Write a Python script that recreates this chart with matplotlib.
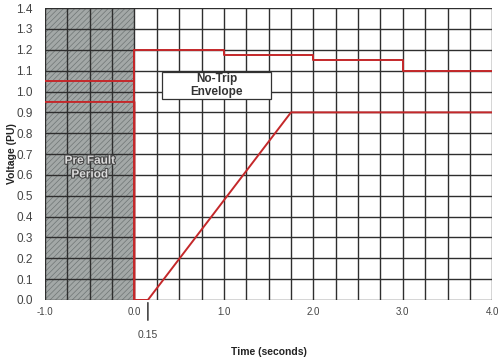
import numpy as np
import matplotlib.pyplot as plt
import matplotlib.patheffects as pe
from matplotlib.patches import Rectangle

# envelope data (time in s, voltage in PU)
upper_t = [-1.0, 0.0, 0.0, 1.0, 1.0, 2.0, 2.0, 3.0, 3.0, 4.0]
upper_v = [1.05, 1.05, 1.20, 1.20, 1.175, 1.175, 1.15, 1.15, 1.10, 1.10]
lower_t = [-1.0, 0.0, 0.0, 0.15, 1.75, 4.0]
lower_v = [0.95, 0.95, 0.0, 0.0, 0.90, 0.90]
fault_t = [0.0, 0.0]
fault_v = [0.0, 1.20]

x_ticks = [-1.0, 0.0, 1.0, 2.0, 3.0, 4.0]
y_ticks = np.round(np.arange(0, 1.41, 0.1), 1)

plt.rcParams['font.family'] = 'Liberation Sans'
plt.rcParams['hatch.color'] = '#6f7575'
plt.rcParams['hatch.linewidth'] = 0.5

fig = plt.figure(figsize=(4.98, 3.63), dpi=100)
ax = fig.add_axes([0.0904, 0.1736, 0.898, 0.804])

# pre-fault shaded region
ax.add_patch(Rectangle((-1, 0), 1, 1.4, facecolor='#a3a8a7', hatch='//////',
                       edgecolor='#6f7575', linewidth=0, zorder=0))

# grid
for x in np.arange(-1, 4.01, 0.25):
    ax.axvline(x, color='#2e2e2e', lw=1.0, zorder=1)
for y in y_ticks:
    ax.axhline(y, color='#2e2e2e', lw=1.0, zorder=1)

red = '#c4282a'
ax.plot(upper_t, upper_v, color=red, lw=1.4, zorder=3)
ax.plot(lower_t, lower_v, color=red, lw=1.4, zorder=3)
ax.plot(fault_t, fault_v, color=red, lw=1.4, zorder=3)

# no-trip label box
ax.add_patch(Rectangle((0.31, 0.965), 1.22, 0.13, facecolor='white',
                       edgecolor='#333333', lw=0.9, zorder=4))
ax.text(0.92, 1.03, 'No-Trip\nEnvelope', ha='center', va='center', fontsize=8.5,
        fontweight='bold', color='#333333', linespacing=1.15, zorder=5)
ax.text(-0.5, 0.635, 'Pre Fault\nPeriod', ha='center', va='center', fontsize=8.5,
        fontweight='bold', color='#dcdcdc', linespacing=1.2, zorder=4,
        path_effects=[pe.withStroke(linewidth=1.6, foreground='#4a4a4a')])

ax.set_xlim(-1, 4)
ax.set_ylim(0, 1.4)
ax.set_xticks(x_ticks)
ax.set_xticklabels([f'{v:.1f}' for v in x_ticks], fontsize=7, color='#444444')
ax.set_yticks(y_ticks)
ax.set_yticklabels([f'{v:.1f}' for v in y_ticks], fontsize=8.5, color='#444444')
ax.tick_params(axis='x', length=0, pad=5)
ax.tick_params(axis='y', length=0, pad=9)
for s in ax.spines.values():
    s.set_visible(False)

# 0.15 s marker below the axis
ax.annotate('', xy=(0.15, -0.11), xytext=(0.15, 0.0), annotation_clip=False,
            arrowprops=dict(arrowstyle='-', color='#444444', lw=1.2))
ax.text(0.15, -0.145, '0.15', ha='center', va='top', fontsize=7.5, color='#444444',
        clip_on=False)

ax.set_xlabel('Time (seconds)', fontsize=7.5, fontweight='bold', color='#222222')
ax.xaxis.set_label_coords(0.5, -0.16)
ax.set_ylabel('Voltage (PU)', fontsize=7.5, fontweight='bold', color='#222222')
ax.yaxis.set_label_coords(-0.062, 0.5)

fig.savefig('out.png', dpi=100)
